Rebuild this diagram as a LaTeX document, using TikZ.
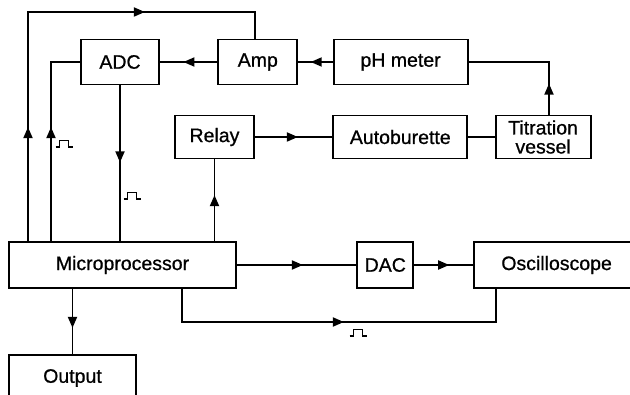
\documentclass[tikz,border=0pt]{standalone}
\usepackage{fontspec}
\setmainfont{Liberation Sans}[FakeBold=0.8]
\usetikzlibrary{positioning,arrows.meta,decorations.markings}
\tikzset{
  font=\fontsize{19.5pt}{19pt}\selectfont,
  >={Triangle[length=11pt,width=9pt]},
  box/.style={draw, line width=1.8pt, align=center, minimum height=45pt, inner sep=2pt},
  wire/.style={line width=1.8pt},
  tipat/.style={postaction={decorate, decoration={markings, mark=at position #1 with {\arrow{>}}}}},
  pulse/.pic={\draw[line width=1.6pt] (-8.5,0) -- (-4.5,0) -- (-4.5,-6.5) -- (4.5,-6.5) -- (4.5,0) -- (8.5,0);},
}

\begin{document}
\begin{tikzpicture}[x=1pt, y=-1pt]
\useasboundingbox (0,0) rectangle (630,395);
\clip (0,0) rectangle (630,395);

% --- top row ------------------------------------------------------------------
\node[box, minimum width=78pt] (adc) at (120,62) {ADC};
\node[box, right=57.5pt of adc, minimum width=79pt] (amp) {Amp};
\node[box, right=34.5pt of amp, minimum width=134pt] (ph) {pH meter};

% --- middle row ---------------------------------------------------------------
\node[box, minimum width=79pt, minimum height=43pt] (relay) at (214.5,137) {Relay};
\node[box, right=77.5pt of relay, minimum width=134pt, minimum height=43pt] (burette) {Autoburette};
\node[box, right=26.5pt of burette, minimum width=95pt, minimum height=43pt] (vessel) {Titration\\vessel};

% --- bottom rows --------------------------------------------------------------
\node[box, minimum width=227pt, minimum height=46pt] (micro) at (122.5,265) {Microprocessor};
\node[box, right=119.5pt of micro, minimum width=56pt, minimum height=46pt] (dac) {DAC};
\node[box, right=58.5pt of dac, minimum width=166pt, minimum height=46pt] (scope) {Oscilloscope};
\node[box, minimum width=127pt, minimum height=46pt] (out) at (72.5,378) {Output};

% --- corners of the wires -----------------------------------------------------
\coordinate (top) at (28,12);
\coordinate (topr) at (255,12);
\coordinate (sel) at (51,62);
\coordinate (tvup) at (549,62);
\coordinate (lowl) at (182,322);
\coordinate (lowr) at (496,322);

% --- measuring loop -----------------------------------------------------------
\draw[wire, tipat=31pt] (vessel.north -| tvup) -- (tvup) -- (ph.east);
\draw[wire, tipat=22pt] (ph) -- (amp);
\draw[wire, tipat=34pt] (amp) -- (adc);
\draw[wire, tipat=77pt] (adc.south) -- (adc.south |- micro.north);
\draw[wire, tipat=114pt] (micro.north -| sel) -- (sel) -- (adc.west);
\draw[wire, tipat=114pt, tipat=346pt] (micro.north -| top) -- (top) -- (topr) -- (topr |- amp.north);

% --- titrant control ----------------------------------------------------------
\draw[wire, tipat=46pt] (micro.north -| relay.south) -- (relay.south);
\draw[wire, tipat=43pt] (relay) -- (burette);
\draw[wire] (burette) -- (vessel);

% --- display and output -------------------------------------------------------
\draw[wire, tipat=66pt] (micro) -- (dac);
\draw[wire, tipat=35pt] (dac) -- (scope);
\draw[wire, tipat=195pt] (micro.south -| lowl) -- (lowl) -- (lowr) -- (scope.south -| lowr);
\draw[wire, tipat=39pt] (micro.south -| out.north) -- (out.north);

% --- pulse signs --------------------------------------------------------------
\pic at (64,147) {pulse};
\pic at (132,199) {pulse};
\pic at (358,336) {pulse};

\end{tikzpicture}
\end{document}
